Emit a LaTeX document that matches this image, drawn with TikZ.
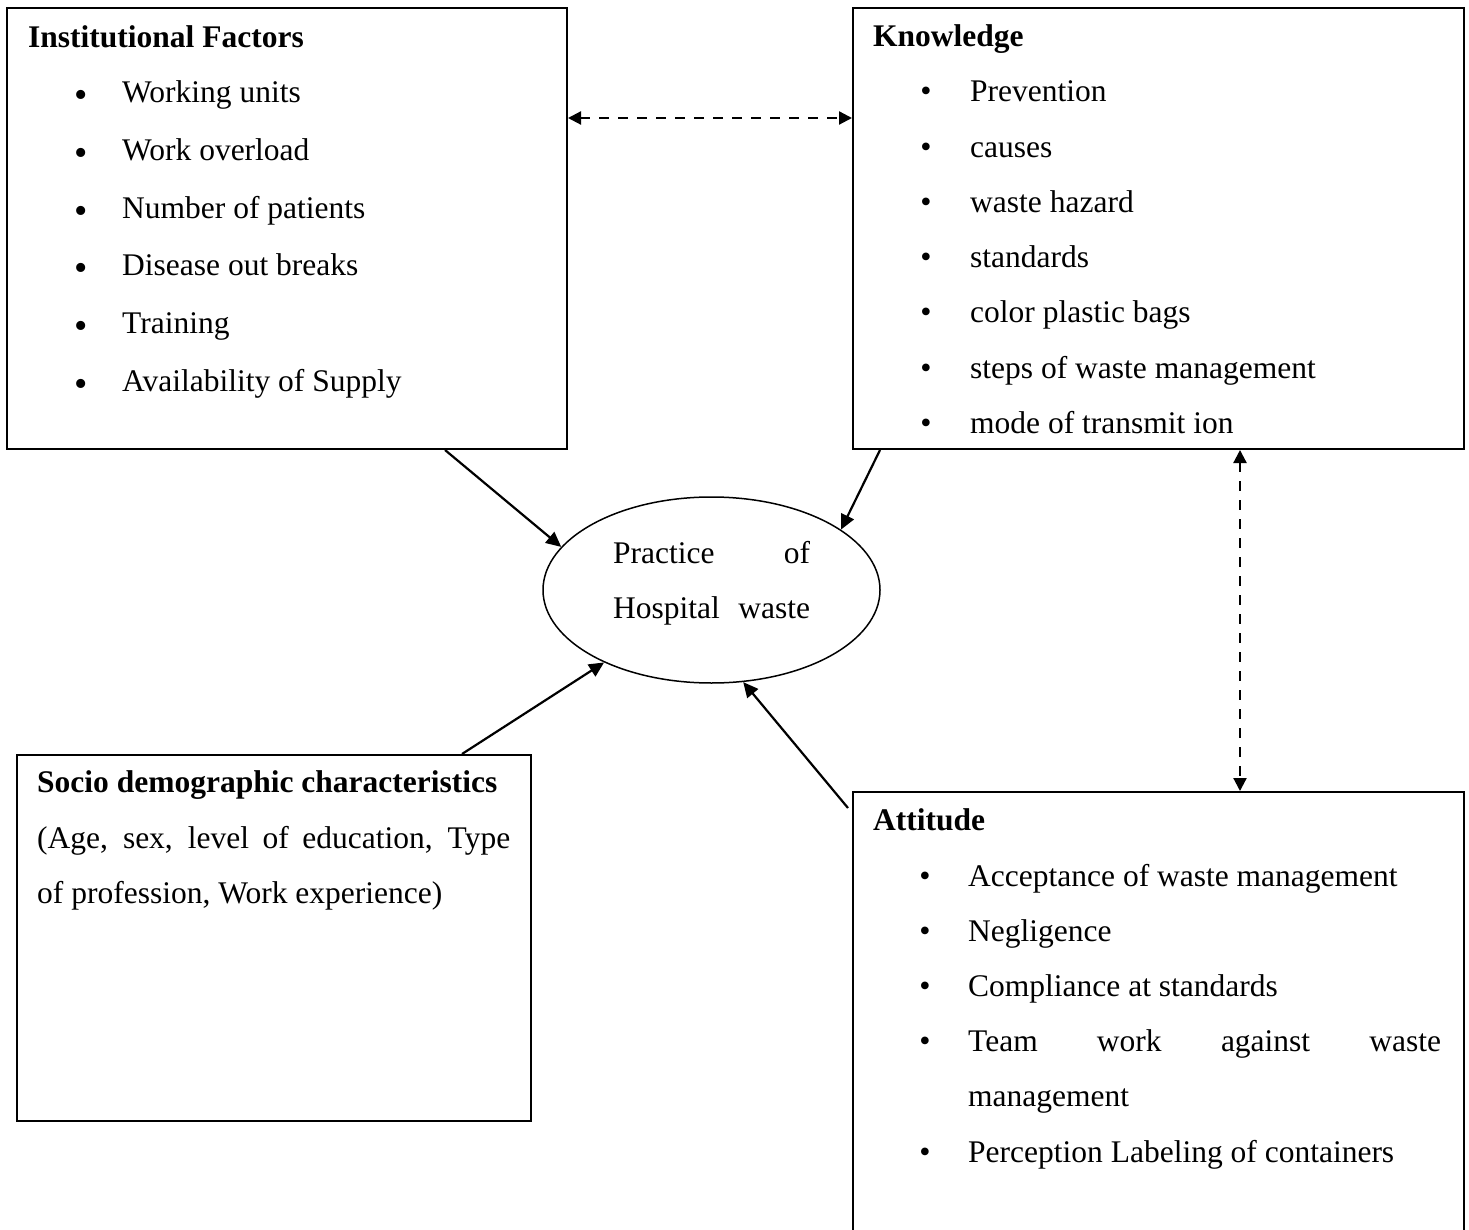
\documentclass[tikz,border=0pt]{standalone}
\usepackage{fontspec}
\setmainfont{Liberation Serif}
\usetikzlibrary{arrows.meta,shapes.geometric}
\begin{document}
\begin{tikzpicture}[x=1pt,y=-1pt,
  box/.style={draw,line width=2pt,inner sep=0pt,anchor=north west,rectangle},
  txt/.style={anchor=base west,inner sep=0pt,font=\fontsize{31.5}{38}\selectfont},
  ttl/.style={anchor=base west,inner sep=0pt,font=\fontsize{31.5}{38}\selectfont\bfseries},
  bul/.style={anchor=base,inner sep=0pt,font=\fontsize{32}{34}\selectfont},
  bigbul/.style={anchor=base,inner sep=0pt,font=\fontsize{38}{40}\selectfont},
  link/.style={line width=2.2pt,-{Triangle[length=15pt,width=14pt]}},
  dlink/.style={line width=2.2pt,dash pattern=on 10pt off 9pt,{Triangle[length=13pt,width=13pt]}-{Triangle[length=13pt,width=13pt]}}
]
\useasboundingbox (0,0) rectangle (1469,1230);
\clip (0,0) rectangle (1469,1230);

% boxes
\node[box,minimum width=560.5pt,minimum height=441pt] (inst) at (5.5,7) {};
\node[box,minimum width=611pt,minimum height=441pt] (know) at (852,7) {};
\node[box,minimum width=514pt,minimum height=366pt] (socio) at (16,754) {};
\node[box,minimum width=611pt,minimum height=460pt] (att) at (852,791) {};
\node[draw,ellipse,line width=1.5pt,inner sep=0pt,minimum width=337pt,minimum height=186pt] (prac) at (711.5,590) {};

% Institutional factors
\node[ttl] (instT) at (28,48) {Institutional Factors};
\foreach \t [count=\i from 0] in {Working units,Work overload,Number of patients,Disease out breaks,Training,Availability of Supply}{
  \node[bigbul] (instB\i) at (81,103+57.6*\i+5) {•};
  \node[txt] (instI\i) at (122,103+57.6*\i) {\t};
}

% Knowledge
\node[ttl] (knowT) at (873,47) {Knowledge};
\foreach \t [count=\i from 0] in {Prevention,causes,waste hazard,standards,color plastic bags,steps of waste management,mode of transmit ion}{
  \node[bul] (knowB\i) at (926,102+55.2*\i) {•};
  \node[txt] (knowI\i) at (970,102+55.2*\i) {\t};
}

% Practice ellipse text
\node[txt] (prac1) at (613,563) {\makebox[197pt][s]{Practice\hfill of}};
\node[txt] (prac2) at (613,618) {\makebox[197pt][s]{Hospital\hfill waste}};

% Socio demographic
\node[ttl] (socT) at (37,792) {Socio demographic characteristics};
\node[txt] (soc1) at (37,848) {\makebox[473pt][s]{(Age, sex, level of education, Type}};
\node[txt] (soc2) at (37,903) {of profession, Work experience)};

% Attitude
\node[ttl] (attT) at (873,830) {Attitude};
\foreach \i/\t in {0/Acceptance of waste management,1/Negligence,2/Compliance at standards,3/{\makebox[473pt][s]{Team work against waste}},5/Perception Labeling of containers}{
  \node[bul] (attB\i) at (925,886+55.2*\i) {•};
  \node[txt] (attI\i) at (968,886+55.2*\i) {\t};
}
\node[txt] (attI4) at (968,886+55.2*4) {management};

% connectors
\draw[link] ([xshift=439.5pt]inst.south west) -- (prac.164);
\draw[link] ([xshift=28pt]know.south west) -- (prac.25.5);
\draw[link] ([xshift=446pt]socio.north west) -- (prac.214.6);
\draw[link] ([xshift=-4pt,yshift=-17pt]att.north west) -- (prac.289.8);
\draw[dlink] ([yshift=-111pt]inst.north east) -- ([yshift=-111pt]know.north west);
\draw[dlink] ([xshift=388pt]know.south west) -- ([xshift=388pt]att.north west);
\end{tikzpicture}
\end{document}
